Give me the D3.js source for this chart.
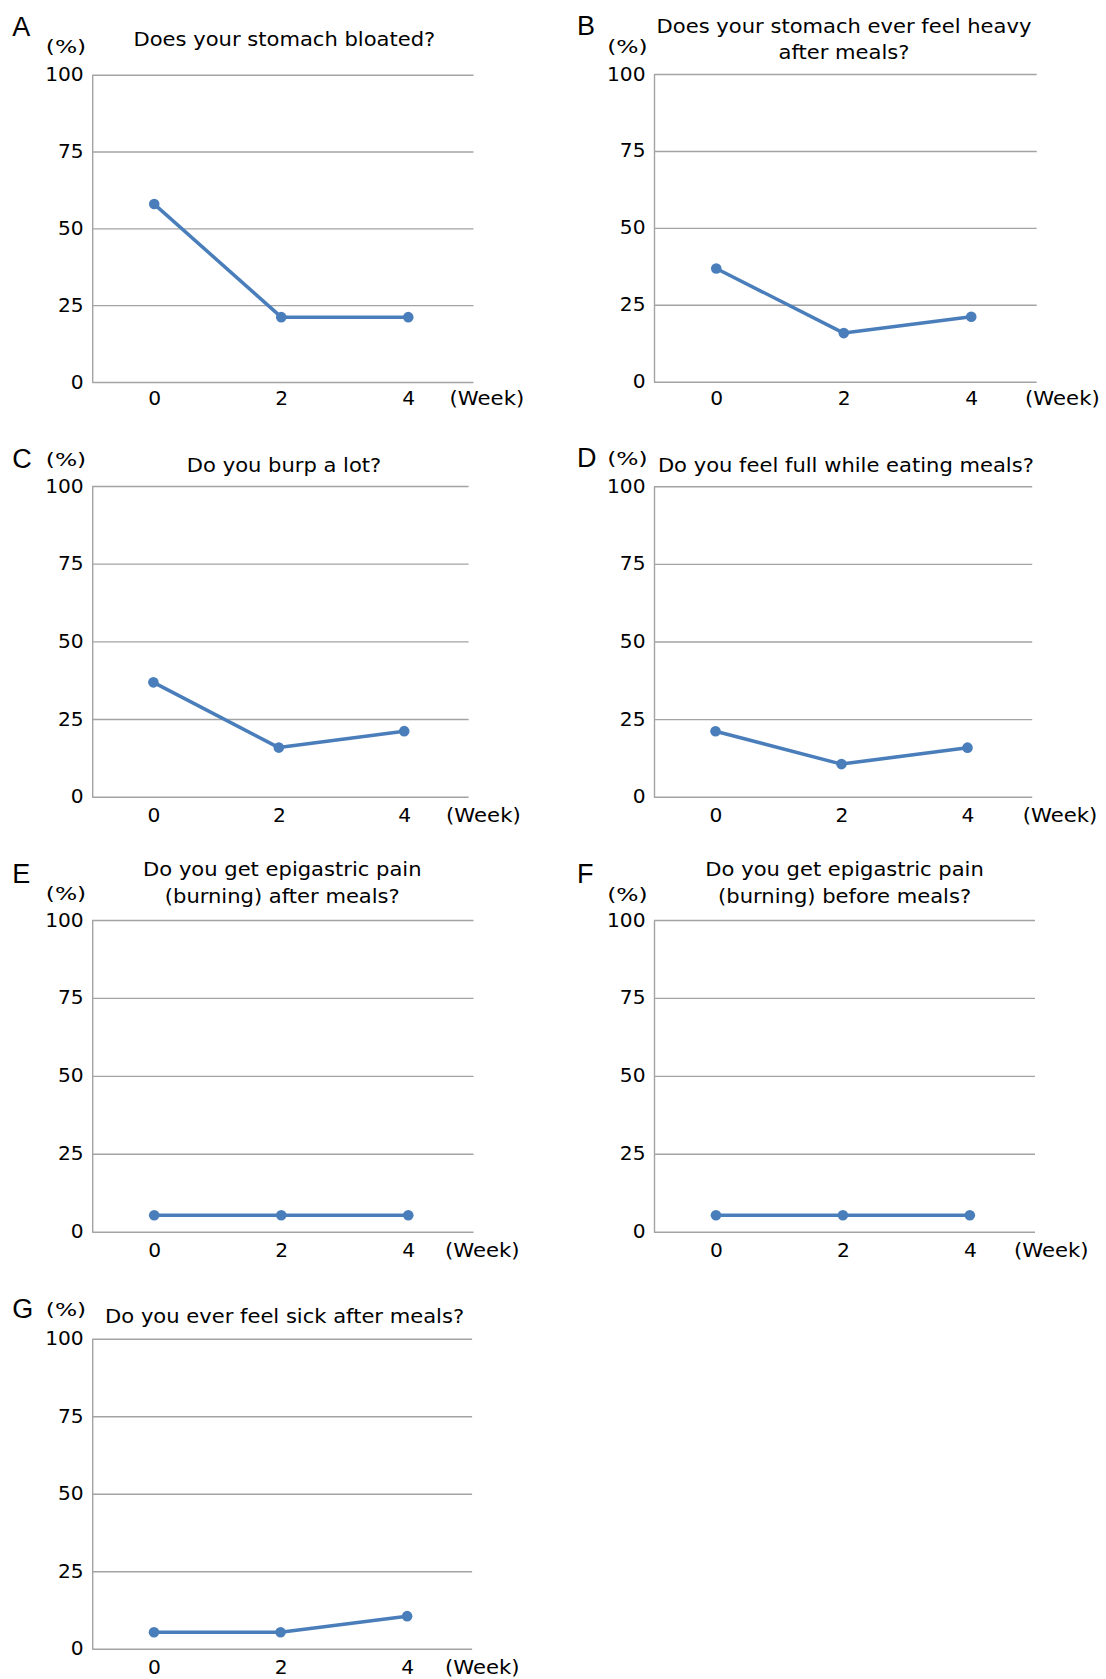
<!DOCTYPE html>
<html>
<head>
<meta charset="utf-8">
<script src="https://cdn.jsdelivr.net/npm/d3@7"></script>
<style>
  html, body { margin: 0; padding: 0; background: #ffffff; }
  svg { display: block; }
</style>
</head>
<body>
<script>
// ---------- data ----------
const weeks = ["0", "2", "4"];
const yTicks = [0, 25, 50, 75, 100];
const panelLetters = ["A", "B", "C", "D", "E", "F", "G"];
const panelTitles = [
  ["Does your stomach bloated?"],
  ["Does your stomach ever feel heavy", "after meals?"],
  ["Do you burp a lot?"],
  ["Do you feel full while eating meals?"],
  ["Do you get epigastric pain", "(burning) after meals?"],
  ["Do you get epigastric pain", "(burning) before meals?"],
  ["Do you ever feel sick after meals?"]
];
const seriesA = [57.9, 21.1, 21.1];
const seriesB = [36.8, 15.8, 21.1];
const seriesC = [36.8, 15.8, 21.1];
const seriesD = [21.1, 10.5, 15.8];
const seriesE = [5.3, 5.3, 5.3];
const seriesF = [5.3, 5.3, 5.3];
const seriesG = [5.3, 5.3, 10.5];
const panelSeries = [seriesA, seriesB, seriesC, seriesD, seriesE, seriesF, seriesG];
const yUnitLabel = "(%)";
const xUnitLabel = "(Week)";

// ---------- layout (positions only) ----------
const layout = [
  {l: 92.2, t: 74.7, r: 473.5, b: 382,    titleX: 284.4, titleY: [46],          letterX: 12.3, letterY: 36,    unitX: 66,    unitY: 52.5,   weekX: 449.6,  xLab: 23},
  {l: 654,  t: 74,   r: 1036.7, b: 381.7, titleX: 844,   titleY: [33.3, 59.3],  letterX: 577,  letterY: 35,    unitX: 627.4, unitY: 52.5,   weekX: 1025.1, xLab: 23.3},
  {l: 92.2, t: 486,  r: 468.6, b: 796.7,  titleX: 284.1, titleY: [471.7],       letterX: 12.3, letterY: 468,   unitX: 66,    unitY: 466,    weekX: 446.1,  xLab: 25.5},
  {l: 654,  t: 486.3, r: 1032.2, b: 796.7, titleX: 845.9, titleY: [471.7],      letterX: 577,  letterY: 467,   unitX: 627.4, unitY: 464.5,  weekX: 1022.7, xLab: 25.5},
  {l: 92.2, t: 920,  r: 473.5, b: 1231.7, titleX: 282.3, titleY: [876, 902.7],  letterX: 12.3, letterY: 883.3, unitX: 66,    unitY: 899.5,  weekX: 445,    xLab: 25},
  {l: 654,  t: 920,  r: 1035,  b: 1231.7, titleX: 844.6, titleY: [876, 902.7],  letterX: 577,  letterY: 883.3, unitX: 627.4, unitY: 901,    weekX: 1013.9, xLab: 25},
  {l: 92.2, t: 1338.7, r: 472.1, b: 1648.7, titleX: 284.6, titleY: [1323.3],    letterX: 12.3, letterY: 1318,  unitX: 66,    unitY: 1315.5, weekX: 445,    xLab: 25.3}
];

const FONT = "'DejaVu Sans', Verdana, sans-serif";
const LETTER_FONT = "'Liberation Sans', Arial, sans-serif";
const LINE_COLOR = "#4A7EBB";
const GRID_COLOR = "#a3a3a3";
const TITLE_STRETCH = 1.075;
const WEEK_STRETCH = 1.05;
const UNIT_WIDTH = 40.5;
const TICK_SIZE = 20.2;

const svg = d3.select("body").append("svg")
  .attr("width", 1106).attr("height", 1679)
  .style("background", "#fff");

function stretch(sel, k, mode) {
  sel.each(function () {
    const len = this.getComputedTextLength();
    d3.select(this).attr("textLength", len * k).attr("lengthAdjust", mode || "spacingAndGlyphs");
  });
}

layout.forEach((p, i) => {
  const g = svg.append("g");
  const x = d3.scalePoint().domain(weeks).range([p.l - 1.5, p.r - 1.7]).padding(0.5);
  const y = d3.scaleLinear().domain([0, 100]).range([p.b, p.t]);

  // y axis with gridlines
  const yAxis = d3.axisLeft(y).tickValues(yTicks).tickSize(-(p.r - p.l)).tickSizeOuter(0).tickPadding(8.5);
  const ya = g.append("g").attr("transform", `translate(${p.l},0)`).call(yAxis);
  ya.select(".domain").attr("stroke", GRID_COLOR).attr("stroke-width", 1.4);
  ya.selectAll(".tick line").attr("stroke", GRID_COLOR).attr("stroke-width", 1.4);
  ya.selectAll(".tick text")
    .attr("fill", "#000").attr("font-family", FONT).attr("font-size", TICK_SIZE)
    .attr("dy", "0.3em");

  // x axis labels
  const xAxis = d3.axisBottom(x).tickValues(weeks).tickSize(0).tickPadding(0);
  const xa = g.append("g").attr("transform", `translate(0,${p.b})`).call(xAxis);
  xa.select(".domain").remove();
  xa.selectAll(".tick text")
    .attr("fill", "#000").attr("font-family", FONT).attr("font-size", TICK_SIZE)
    .attr("y", p.xLab).attr("dy", 0);

  // line + markers
  const data = panelSeries[i].map((v, k) => ({w: weeks[k], v}));
  const line = d3.line().x(d => x(d.w)).y(d => y(d.v));
  g.append("path").datum(data)
    .attr("d", line).attr("fill", "none")
    .attr("stroke", LINE_COLOR).attr("stroke-width", 3.5)
    .attr("stroke-linejoin", "round");
  g.selectAll("circle.pt").data(data).enter().append("circle")
    .attr("class", "pt")
    .attr("cx", d => x(d.w)).attr("cy", d => y(d.v)).attr("r", 5.3)
    .attr("fill", LINE_COLOR);

  // title
  panelTitles[i].forEach((t, k) => {
    const tt = g.append("text").text(t)
      .attr("x", p.titleX).attr("y", p.titleY[k])
      .attr("text-anchor", "middle")
      .attr("font-family", FONT).attr("font-size", 19.6).attr("fill", "#000");
    stretch(tt, TITLE_STRETCH);
  });

  // panel letter
  g.append("text").text(panelLetters[i])
    .attr("x", p.letterX).attr("y", p.letterY)
    .attr("font-family", LETTER_FONT).attr("font-size", 27).attr("fill", "#000");

  // unit labels
  const u = g.append("text").text(yUnitLabel)
    .attr("x", p.unitX).attr("y", p.unitY).attr("text-anchor", "middle")
    .attr("font-family", FONT).attr("font-size", 18).attr("fill", "#000");
  u.each(function () {
    d3.select(this).attr("textLength", UNIT_WIDTH).attr("lengthAdjust", "spacingAndGlyphs");
  });
  const wk = g.append("text").text(xUnitLabel)
    .attr("x", p.weekX).attr("y", p.b + p.xLab)
    .attr("font-family", FONT).attr("font-size", TICK_SIZE).attr("fill", "#000");
  stretch(wk, WEEK_STRETCH);
});
</script>
</body>
</html>
